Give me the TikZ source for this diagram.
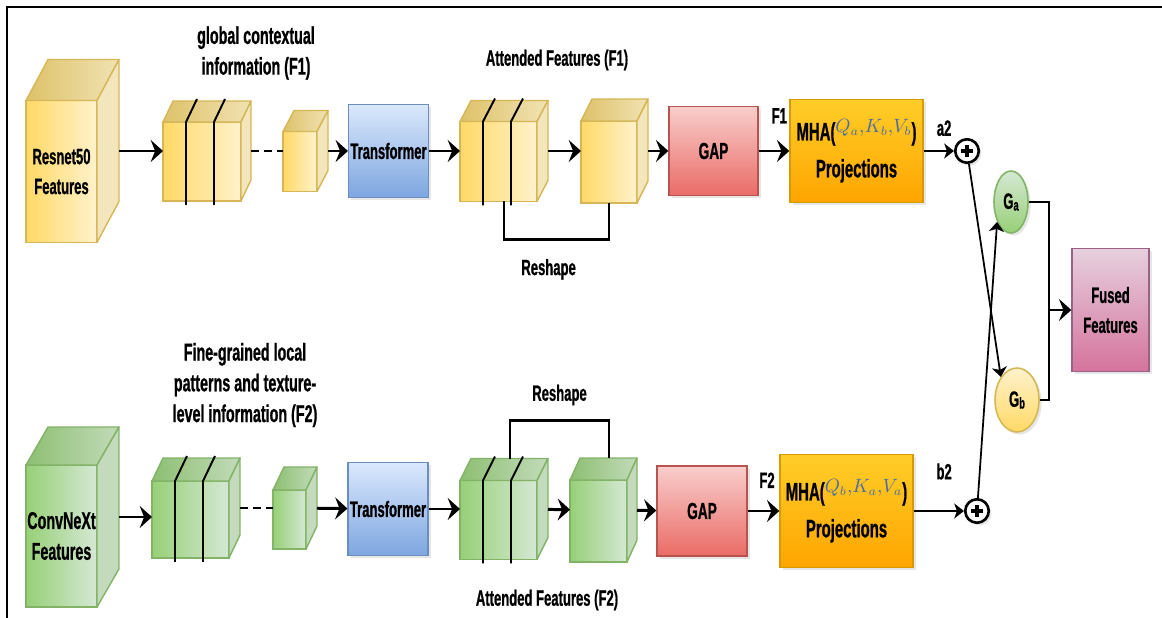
\documentclass[tikz,border=0pt]{standalone}
\usepackage{fontspec}
\setmainfont{Liberation Sans}[FakeStretch=0.59,BoldFeatures={FakeBold=0.8}]
\usepackage{tikz}
\usetikzlibrary{positioning,arrows.meta,shapes.geometric,calc,shadows}
% cube colours: L/R front, T/U top, S side, D border
\definecolor{ylwL}{HTML}{FFD966}
\definecolor{ylwR}{HTML}{FFF2CC}
\definecolor{ylwT}{HTML}{DEC26A}
\definecolor{ylwU}{HTML}{F0E2B2}
\definecolor{ylwS}{HTML}{F3E5BC}
\definecolor{ylwD}{HTML}{D6B656}
\definecolor{grnL}{HTML}{97D077}
\definecolor{grnR}{HTML}{D5E8D4}
\definecolor{grnT}{HTML}{8DBF72}
\definecolor{grnU}{HTML}{C2DBB9}
\definecolor{grnS}{HTML}{C4DABD}
\definecolor{grnD}{HTML}{82B366}
% boxes
\definecolor{trT}{HTML}{DAE8FC}
\definecolor{trB}{HTML}{7EA6E0}
\definecolor{trD}{HTML}{6C8EBF}
\definecolor{gapT}{HTML}{F8CECC}
\definecolor{gapB}{HTML}{EA6B66}
\definecolor{gapD}{HTML}{B85450}
\definecolor{mhaT}{HTML}{FFCD28}
\definecolor{mhaB}{HTML}{FFA500}
\definecolor{mhaD}{HTML}{D79B00}
\definecolor{fusT}{HTML}{E6D0DE}
\definecolor{fusB}{HTML}{D5739D}
\definecolor{fusD}{HTML}{996185}
\definecolor{mathblue}{HTML}{4A6CA6}
\newcommand{\drawcube}[4]{%
  \path[left color=#4L,right color=#4R,draw=#4D,line width=0.8pt]
    (#1.south west) rectangle ($(#1.north east)+(-#2,#3)$);
  \path[left color=#4T,right color=#4U,draw=#4D,line width=0.8pt,line join=round]
    ($(#1.north west)+(0,#3)$) -- ($(#1.north west)+(#2,0)$) -- (#1.north east)
    -- ($(#1.north east)+(-#2,#3)$) -- cycle;
  \path[fill=#4S,draw=#4D,line width=0.8pt,line join=round]
    ($(#1.north east)+(-#2,#3)$) -- (#1.north east) -- ($(#1.south east)+(0,-#3)$)
    -- ($(#1.south east)+(-#2,0)$) -- cycle;
}
\newcommand{\drawslices}[3]{%
  \foreach \off in {23,51}
    \draw[line width=1.1pt] ($(#1.south west)+(\off,4)$) -- ($(#1.north west)+(\off,#3)$)
      -- ($(#1.north west)+(\off+#2+1,-2)$);
}
\newcommand{\mhatext}[1]{MHA(\raisebox{4.5pt}{\fontsize{10.5}{10.5}\selectfont\color{mathblue}$#1$})\\Projections}

\begin{document}
\begin{tikzpicture}[x=0.02cm,y=-0.02cm,
  font=\fontsize{12.6}{14}\selectfont\bfseries,
  cubebox/.style={inner sep=0pt,outer sep=0pt},
  cell/.style={align=center,inner sep=0pt,font=\fontsize{12.6}{17}\selectfont\bfseries},
  box/.style={draw,line width=0.8pt,align=center,inner sep=1pt,
              drop shadow={opacity=0.2,shadow xshift=1.5pt,shadow yshift=-1.5pt}},
  trans/.style={box,draw=trD,top color=trT,bottom color=trB,
                minimum width=1.58cm,minimum height=1.86cm},
  gapbox/.style={box,draw=gapD,top color=gapT,bottom color=gapB,
                 minimum width=1.78cm,minimum height=1.78cm,
                 font=\fontsize{13.2}{14}\selectfont\bfseries},
  mhabox/.style={box,draw=mhaD,top color=mhaT,bottom color=mhaB,minimum width=2.66cm,
                 font=\fontsize{14.4}{21}\selectfont\bfseries},
  fusbox/.style={box,draw=fusD,top color=fusT,bottom color=fusB,
                 minimum width=1.54cm,minimum height=2.46cm,
                 font=\fontsize{12.6}{17}\selectfont\bfseries},
  gate/.style={ellipse,line width=0.9pt,inner sep=0pt,draw,
               drop shadow={opacity=0.2,shadow xshift=1.5pt,shadow yshift=-1.5pt}},
  plus/.style={circle,draw,line width=1.5pt,fill=white,minimum size=0.47cm,inner sep=0pt,
               drop shadow={opacity=0.2,shadow xshift=1.5pt,shadow yshift=-1.5pt},
               path picture={\draw[line width=1.8pt] (path picture bounding box.center)
                 +(-6,0) -- +(6,0) +(0,-6) -- +(0,6);}},
  arr/.style={-{Stealth[length=7pt,width=12.5pt,inset=2.5pt]},line width=1.7pt},
  tarr/.style={-{Stealth[length=5.5pt,width=8.5pt,inset=1.5pt]},line width=0.9pt},
  dotline/.style={line width=1.7pt,dash pattern=on 4.5pt off 3pt},
  link/.style={line width=1.4pt},
  lbl/.style={align=center,font=\fontsize{13.8}{17.5}\selectfont\bfseries},
  tag/.style={inner sep=0pt,font=\fontsize{12.6}{13}\selectfont\bfseries}
]
\useasboundingbox (0,0) rectangle (1162,618);
\draw[line width=1.2pt] (7,618) -- (7,7) -- (1162,7);

% ResNet branch
\node[cubebox,minimum width=1.86cm,minimum height=3.66cm] (rescube) at (72.5,151) {};
\drawcube{rescube}{22}{41}{ylw}
\node[cell] (restxt) at ($(rescube.center)+(-11,20.5)$) {Resnet50\\Features};
\node[cubebox,minimum width=1.76cm,minimum height=2cm] (stackA) at (207,151) {};
\drawcube{stackA}{10}{21}{ylw}
\drawslices{stackA}{10}{21}
\node[cubebox,minimum width=0.9cm,minimum height=1.62cm] (smallA) at (305.5,151) {};
\drawcube{smallA}{11}{21}{ylw}
\node[trans] (transA) at (388.5,151) {Transformer};
\node[cubebox,minimum width=1.76cm,minimum height=2.02cm] (attA) at (504,151) {};
\drawcube{attA}{11}{21}{ylw}
\drawslices{attA}{11}{21}
\node[cubebox,minimum width=1.34cm,minimum height=2.08cm] (reA) at (614.5,151) {};
\drawcube{reA}{11}{22}{ylw}
\node[gapbox] (gapA) at (713.5,151) {GAP};
\node[mhabox,minimum height=2.06cm] (mhaA) at (856.5,151) {\mhatext{Q_a{,}K_b{,}V_b}};
\node[plus] (plusA) at (967,151) {};

\node[lbl] (globtxt) at (256,53) {global contextual\\information (F1)};
\node[tag] (attAtxt) at (557,60) {Attended Features (F1)};

\draw[arr] (rescube) -- (stackA);
\draw[dotline] (stackA) -- (smallA);
\draw[arr] (smallA) -- (transA);
\draw[arr] (transA) -- (attA);
\draw[arr] (attA) -- (reA);
\draw[arr] (reA) -- (gapA);
\draw[arr] (gapA) -- (mhaA) node[tag,midway,xshift=3pt,yshift=20pt] {F1};
\draw[tarr] (mhaA) -- (plusA) node[tag,midway,xshift=3pt,yshift=13pt] {a2};
\draw[link] (attA.south) -- ++(0,38) -| ($(reA.south)+(-5.5,0)$)
  node[tag,pos=0.25,xshift=-4.5pt,yshift=-17pt] {Reshape};

% ConvNeXt branch
\node[cubebox,minimum width=1.86cm,minimum height=3.6cm] (convcube) at (72.5,517) {};
\drawcube{convcube}{22}{38}{grn}
\node[cell,font=\fontsize{13.8}{17.5}\selectfont\bfseries] (convtxt)
  at ($(convcube.center)+(-11,19)$) {ConvNeXt\\Features};
\node[cubebox,minimum width=1.76cm,minimum height=2cm] (stackB) at (196,508) {};
\drawcube{stackB}{11}{23}{grn}
\drawslices{stackB}{11}{23}
\node[cubebox,minimum width=0.88cm,minimum height=1.64cm] (smallB) at (295,508) {};
\drawcube{smallB}{11}{23}{grn}
\node[trans] (transB) at (388,509) {Transformer};
\node[cubebox,minimum width=1.76cm,minimum height=2.02cm] (attB) at (504,509) {};
\drawcube{attB}{11}{22}{grn}
\drawslices{attB}{11}{22}
\node[cubebox,minimum width=1.34cm,minimum height=2.08cm] (reB) at (603.5,510) {};
\drawcube{reB}{10}{22}{grn}
\node[gapbox,minimum width=1.8cm,minimum height=1.8cm] (gapB) at (702,511) {GAP};
\node[mhabox,minimum height=2.26cm] (mhaB) at (846.5,511) {\mhatext{Q_b{,}K_a{,}V_a}};
\node[plus] (plusB) at (977,511) {};

\node[lbl] (finetxt) at (245,385) {Fine-grained local\\patterns and texture-\\level information (F2)};
\node[tag] (attBtxt) at (547,600) {Attended Features (F2)};

\draw[arr] (convcube) -- (convcube -| stackB.west);
\draw[dotline] (stackB) -- (smallB);
\draw[arr] (smallB) -- (transB);
\draw[arr] (transB) -- (attB);
\draw[arr] (attB) -- (reB);
\draw[arr] (reB) -- (gapB);
\draw[arr] (gapB) -- (mhaB) node[tag,midway,xshift=2pt,yshift=17.5pt] {F2};
\draw[tarr] (mhaB) -- (plusB) node[tag,midway,xshift=3pt,yshift=22.5pt] {b2};
\draw[link] ($(attB.north)+(6,0)$) -- ++(0,-38) -| ($(reB.north)+(5.5,0)$)
  node[tag,pos=0.25,yshift=14.5pt] {Reshape};

% gating and fusion
\node[gate,draw=grnD,top color=grnR,bottom color=grnL,minimum width=0.68cm,minimum height=1.24cm]
  (ga) at (1011,202) {G\raisebox{-1pt}{\fontsize{9}{9}\selectfont a}};
\node[gate,draw=ylwD,top color=ylwR,bottom color=ylwL,minimum width=0.88cm,minimum height=1.28cm]
  (gb) at (1017,400) {G\raisebox{-1pt}{\fontsize{9}{9}\selectfont b}};
\node[fusbox] (fused) at (1110.5,310) {Fused\\Features};
\coordinate (merge) at (1049,310);

\draw[tarr,line width=1pt] (plusA) -- (gb.125);
\draw[tarr,line width=1pt] (plusB) -- (ga.235);
\draw[link] (ga) -| (merge) |- (gb);
\draw[arr] (merge) -- (fused);
\end{tikzpicture}
\end{document}
